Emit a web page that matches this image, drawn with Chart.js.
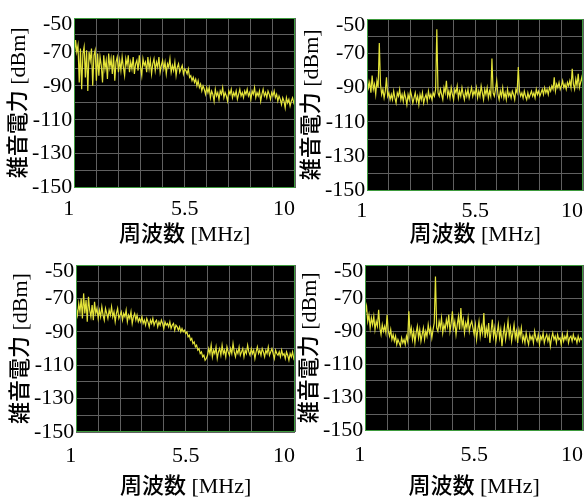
<!DOCTYPE html>
<html>
<head>
<meta charset="utf-8">
<script src="https://cdn.jsdelivr.net/npm/chart.js@4.4.1/dist/chart.umd.min.js"></script>
<style>
  html, body { margin: 0; padding: 0; background: #fff; overflow: hidden; }
  #wrap { position: relative; width: 588px; height: 497px; overflow: hidden; }
  canvas { position: absolute; }
</style>
</head>
<body>
<div id="wrap">
  <canvas id="tl"></canvas>
  <canvas id="tr"></canvas>
  <canvas id="bl"></canvas>
  <canvas id="br"></canvas>
</div>
<script>
// frequency samples [MHz]
const freqMHz = [
  1, 1.05, 1.1, 1.15, 1.2, 1.25, 1.3, 1.35, 1.4, 1.45, 1.5, 1.55, 1.6, 1.65, 1.7, 1.75, 1.8, 1.85, 1.9, 1.95,
  2, 2.05, 2.1, 2.15, 2.2, 2.25, 2.3, 2.35, 2.4, 2.45, 2.5, 2.55, 2.6, 2.65, 2.7, 2.75, 2.8, 2.85, 2.9, 2.95,
  3, 3.05, 3.1, 3.15, 3.2, 3.25, 3.3, 3.35, 3.4, 3.45, 3.5, 3.55, 3.6, 3.65, 3.7, 3.75, 3.8, 3.85, 3.9, 3.95,
  4, 4.05, 4.1, 4.15, 4.2, 4.25, 4.3, 4.35, 4.4, 4.45, 4.5, 4.55, 4.6, 4.65, 4.7, 4.75, 4.8, 4.85, 4.9, 4.95,
  5, 5.05, 5.1, 5.15, 5.2, 5.25, 5.3, 5.35, 5.4, 5.45, 5.5, 5.55, 5.6, 5.65, 5.7, 5.75, 5.8, 5.85, 5.9, 5.95,
  6, 6.05, 6.1, 6.15, 6.2, 6.25, 6.3, 6.35, 6.4, 6.45, 6.5, 6.55, 6.6, 6.65, 6.7, 6.75, 6.8, 6.85, 6.9, 6.95,
  7, 7.05, 7.1, 7.15, 7.2, 7.25, 7.3, 7.35, 7.4, 7.45, 7.5, 7.55, 7.6, 7.65, 7.7, 7.75, 7.8, 7.85, 7.9, 7.95,
  8, 8.05, 8.1, 8.15, 8.2, 8.25, 8.3, 8.35, 8.4, 8.45, 8.5, 8.55, 8.6, 8.65, 8.7, 8.75, 8.8, 8.85, 8.9, 8.95,
  9, 9.05, 9.1, 9.15, 9.2, 9.25, 9.3, 9.35, 9.4, 9.45, 9.5, 9.55, 9.6, 9.65, 9.7, 9.75, 9.8, 9.85, 9.9, 9.95,
  10
];

// noise power [dBm], top-left
const noiseTopLeft = [
  -72, -63, -70, -66, -88, -68, -92, -71, -67, -85, -69, -93, -70, -75, -68, -90, -72, -69, -87,
  -71, -84, -73, -78, -88, -72, -80, -75, -86, -71, -79, -74, -83, -72, -87, -76, -73, -82,
  -75, -81, -73, -79, -84, -74, -78, -72, -82, -76, -80, -73, -83, -77, -75, -81, -72, -79, -84, -74,
  -78, -76, -82, -73, -80, -75, -83, -77, -74, -81, -76, -79, -73, -82, -78, -75,
  -80, -76, -83, -77, -79, -74, -82, -78, -81, -76, -84, -79, -77, -82, -80, -78, -83, -80,
  -81, -83, -80, -85, -84, -87, -85, -88, -86, -90, -87, -91, -89, -93, -90, -92, -95, -91,
  -94, -91, -97, -93, -95, -99, -92, -96, -94, -98, -93, -95, -91, -97, -94, -96, -99, -93, -95, -92,
  -97, -94, -96, -93, -98, -95, -92, -96, -94, -97, -93, -95,
  -92, -96, -94, -98, -93, -95, -91, -97, -94, -96, -93, -99, -95, -92, -96, -94, -97, -93, -95, -98,
  -94, -96, -93, -97, -95, -99,
  -96, -98, -101, -97, -99, -103, -97, -100, -98, -102, -99, -97, -100, -98
];

// top-right
const noiseTopRight = [
  -84, -90, -87, -93, -83, -91, -88, -94, -86, -90,
  -64, -88, -94, -91, -96, -92, -84, -95, -93, -97,
  -94, -97, -92, -96, -99, -93, -95, -91, -97, -94, -98, -93, -96, -100, -94, -97, -92, -95, -99, -96,
  -93, -98, -95, -100, -94, -97, -93, -99, -96, -94, -98, -92, -96, -94, -97, -93, -95, -91,
  -56, -93,
  -95, -91, -94, -97, -90, -93, -86, -95, -92, -96, -90, -94, -97, -91, -93, -89, -96, -92, -95, -90,
  -94, -97, -92, -95, -91, -96, -93, -90, -95, -92,
  -94, -90, -96, -92, -95, -89, -93, -97, -91, -94, -90, -96, -92, -95,
  -73, -93,
  -95, -91, -86, -94, -97, -92, -95, -90, -96, -93, -97, -91, -95, -93, -96, -92, -94, -97, -91, -93,
  -78, -92,
  -95, -93, -96, -92, -95, -97, -93, -96, -94, -92, -95, -93, -96, -91, -94, -92, -95, -93, -91, -94,
  -90, -93, -91, -94, -90, -92,
  -89, -91, -84, -92, -88, -90, -87, -91, -89, -86, -90, -88, -91, -87, -89, -86, -90, -79, -88, -91,
  -85, -89, -82, -90, -87, -84, -88
];

// bottom-left
const noiseBottomLeft = [
  -76, -80, -73, -78, -70, -82, -67, -79, -71, -84, -69, -77, -81, -74, -83, -72, -79, -76, -82,
  -77, -81, -75, -80, -83, -76, -79, -82, -77, -80, -75, -81, -78, -84, -79, -76, -82, -80, -78, -83,
  -79, -81, -77, -84, -80, -82, -78, -85, -81, -79, -83, -80, -84, -82,
  -84, -81, -85, -83, -86, -82, -84, -87, -83, -85, -82, -86, -84, -83, -87, -84, -86, -83, -85, -88,
  -84, -86, -85, -87, -84, -88, -86, -85, -89, -86, -87, -89, -87, -90,
  -88, -90, -89, -91, -90, -93, -92, -95, -94, -97, -96, -99, -98, -101, -100, -103, -102, -105, -104, -107,
  -106,
  -104, -100, -103, -98, -105, -101, -103, -99, -106, -102, -100, -104, -98, -103, -101, -105, -99, -102, -104, -100,
  -103, -97, -102, -105, -101, -103, -99, -104, -102, -100, -105, -101, -103, -98, -102, -104, -100, -103, -101, -106,
  -102, -99, -103, -101, -104, -100, -102, -105, -101, -103, -99, -104, -102, -100, -103, -106, -101, -103, -104, -102,
  -105, -101, -104, -103, -106, -102, -104, -107, -103, -105, -102, -106, -104
];

// bottom-right
const noiseBottomRight = [
  -79, -75, -84, -80, -88, -82, -86, -81, -89, -84, -87, -77,
  -88, -92, -86, -90, -87, -91, -80,
  -90, -93, -89, -95, -92, -96, -93, -98, -95, -97, -99, -94, -97, -95, -98, -93, -96,
  -78,
  -92, -88, -95, -90, -97, -91, -87, -94, -89, -96, -92, -88, -95, -90, -93, -86, -91, -88, -94, -89, -85,
  -57, -88,
  -90, -84, -88, -82, -91, -86, -89, -83, -87, -80, -90, -85, -78, -88, -84, -92, -86, -81, -89, -76,
  -87, -83, -91, -85, -88, -82, -90, -86, -84,
  -88, -92, -86, -95, -89, -84, -93, -87, -91, -79, -94, -88, -92, -85, -97, -90, -83, -93, -88, -96,
  -91, -86, -94, -89, -99, -92, -87, -95, -90, -84, -93, -88, -96, -91, -86, -94, -90, -97, -89, -93,
  -88,
  -96, -93, -97, -91, -95, -98, -92, -95, -93, -97, -90, -94, -96, -92, -98, -93, -95, -91, -97, -94,
  -92, -96, -93, -99, -94, -91, -95, -93, -97, -92, -95, -94, -98, -92, -96, -93, -95, -91, -97, -94,
  -93, -96, -92, -95, -94, -97, -93, -96, -94, -95, -96
];

const xTicks = [1, 5.5, 10];
const yTicks = [-50, -70, -90, -110, -130, -150];
const xTitle = '周波数 [MHz]';
const yTitle = '雑音電力 [dBm]';

const SERIF = "'Liberation Serif', 'Times New Roman', serif";
const TITLE_FONT = "'Liberation Serif', 'Noto Sans CJK JP', serif";

const panels = [
  { id: 'tl', values: noiseTopLeft, left: 0, top: 0, w: 345, h: 248,
    pad: { left: 8, top: 18, right: 50, bottom: 1.4 }, tickPad: 8, titlePad: -5.4 },
  { id: 'tr', values: noiseTopRight, left: 290, top: 0, w: 345, h: 248,
    pad: { left: 11, top: 19, right: 52, bottom: 1.9 }, tickPad: 7, titlePad: -6.9 },
  { id: 'bl', values: noiseBottomLeft, left: 0, top: 247, w: 345, h: 252,
    pad: { left: 10, top: 18, right: 50, bottom: 0.5 }, tickPad: 10.5, titlePad: -3 },
  { id: 'br', values: noiseBottomRight, left: 290, top: 247, w: 345, h: 252,
    pad: { left: 9, top: 18, right: 52, bottom: 0.4 }, tickPad: 11, titlePad: -2.4 }
];

// black plot area + green frame
const plotFrame = {
  id: 'plotFrame',
  beforeDraw(chart) {
    const { ctx, chartArea: a } = chart;
    ctx.save();
    ctx.fillStyle = '#000';
    ctx.fillRect(a.left, a.top, a.right - a.left, a.bottom - a.top);
    ctx.restore();
  },
  afterDraw(chart) {
    const { ctx, chartArea: a } = chart;
    ctx.save();
    ctx.strokeStyle = '#3d9a3d';
    ctx.lineWidth = 1;
    ctx.strokeRect(Math.round(a.left) + 0.5, Math.round(a.top) + 0.5,
      Math.round(a.right - a.left) - 1, Math.round(a.bottom - a.top) - 1);
    ctx.restore();
  }
};

const near = (a, b) => Math.abs(a - b) < 1e-6;

function xLabel(v) {
  // first label sits left of the edge, last one ends at the edge
  if (near(v, xTicks[0])) return '1  ';
  if (near(v, xTicks[2])) return '10    ';
  if (near(v, xTicks[1])) return '5.5';
  return '';
}

function yLabel(v) {
  if (!yTicks.some(t => near(t, v))) return '';
  return near(v, -50) ? ['', '-50'] : String(v);
}

panels.forEach(p => {
  const cv = document.getElementById(p.id);
  cv.width = p.w;
  cv.height = p.h;
  cv.style.left = p.left + 'px';
  cv.style.top = p.top + 'px';

  new Chart(cv, {
    type: 'line',
    data: {
      datasets: [{
        data: freqMHz.map((f, i) => ({ x: f, y: p.values[i] })),
        borderColor: '#e4e43a',
        borderWidth: 1.2,
        pointRadius: 0,
        tension: 0
      }]
    },
    options: {
      responsive: false,
      animation: false,
      devicePixelRatio: 1,
      layout: { padding: p.pad },
      plugins: { legend: { display: false }, tooltip: { enabled: false } },
      scales: {
        x: {
          type: 'linear',
          min: 1,
          max: 10,
          border: { display: false },
          grid: { color: '#606060', lineWidth: 1, drawTicks: false },
          ticks: {
            stepSize: 0.9,
            autoSkip: false,
            maxRotation: 0,
            minRotation: 0,
            padding: p.tickPad,
            color: '#000',
            font: { family: SERIF, size: 22 },
            callback: xLabel
          },
          title: {
            display: true,
            text: xTitle,
            color: '#000',
            font: { family: TITLE_FONT, size: 22, weight: 500, lineHeight: 1 },
            padding: { top: p.titlePad, bottom: 0 }
          }
        },
        y: {
          min: -150,
          max: -50,
          border: { display: false },
          grid: { color: '#606060', lineWidth: 1, drawTicks: false },
          ticks: {
            stepSize: 10,
            autoSkip: false,
            padding: 2,
            color: '#000',
            font: ctx => ({ family: SERIF, size: 22,
              lineHeight: ctx.tick && near(ctx.tick.value, -50) ? 0.6 : 1.2 }),
            callback: yLabel
          },
          title: {
            display: true,
            text: yTitle,
            color: '#000',
            font: { family: TITLE_FONT, size: 22, weight: 500, lineHeight: 1 },
            padding: 0
          }
        }
      }
    },
    plugins: [plotFrame]
  });
});
</script>
</body>
</html>
